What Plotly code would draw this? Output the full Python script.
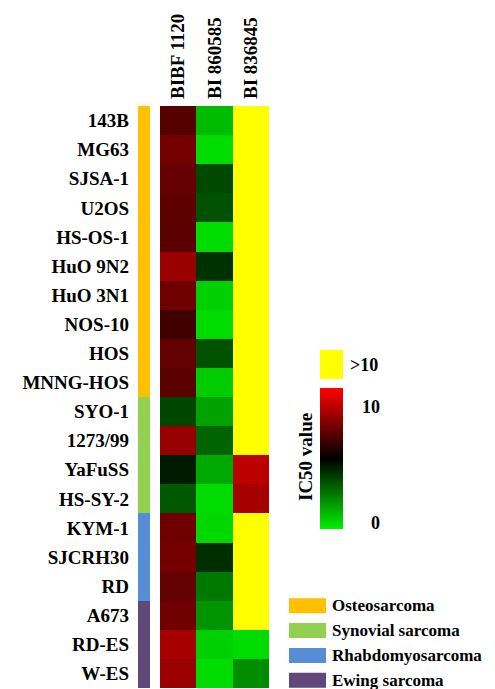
import plotly.graph_objects as go

# ---------------- data ----------------
cell_lines = ["143B", "MG63", "SJSA-1", "U2OS", "HS-OS-1", "HuO 9N2", "HuO 3N1",
              "NOS-10", "HOS", "MNNG-HOS", "SYO-1", "1273/99", "YaFuSS", "HS-SY-2",
              "KYM-1", "SJCRH30", "RD", "A673", "RD-ES", "W-ES"]
tumor_type = ["Osteosarcoma", "Osteosarcoma", "Osteosarcoma", "Osteosarcoma", "Osteosarcoma",
              "Osteosarcoma", "Osteosarcoma", "Osteosarcoma", "Osteosarcoma", "Osteosarcoma",
              "Synovial sarcoma", "Synovial sarcoma", "Synovial sarcoma", "Synovial sarcoma",
              "Rhabdomyosarcoma", "Rhabdomyosarcoma", "Rhabdomyosarcoma",
              "Ewing sarcoma", "Ewing sarcoma", "Ewing sarcoma"]
tumor_types = ["Osteosarcoma", "Synovial sarcoma", "Rhabdomyosarcoma", "Ewing sarcoma"]
tumor_colors = ["#FFC000", "#92D050", "#558ED5", "#60497A"]

drugs = ["BIBF 1120", "BI 860585", "BI 836845"]
GT10 = None  # IC50 > 10
bibf_1120 = [7.6, 8.3, 8.0, 7.8, 7.7, 9.2, 8.2, 7.1, 7.9, 7.7,
             3.8, 9.1, 4.9, 3.3, 8.2, 8.3, 7.9, 8.2, 9.5, 9.2]
bi_860585 = [0.8, 0.0, 3.7, 3.5, 0.0, 4.3, 0.3, 0.0, 3.5, 0.4,
             1.5, 3.0, 1.3, 0.0, 0.1, 4.4, 2.5, 1.8, 0.3, 0.0]
bi_836845 = [GT10, GT10, GT10, GT10, GT10, GT10, GT10, GT10, GT10, GT10,
             GT10, GT10, 10.0, 9.5, GT10, GT10, GT10, GT10, 0.0, 2.0]
cbar_ticks = [0, 10]
cbar_ticktext = ["\u00a0\u00a00", "10"]

# ---------------- layout helpers ----------------
W, H = 495, 689
L, R, T, B = 138, 269, 106, 688  # plot area in pixels
def px_x(p):
    return (p - L) / (R - L)
def px_y(p):
    return (B - p) / (B - T)

FONT = "Liberation Serif, Times New Roman, serif"

series = [bibf_1120, bi_860585, bi_836845]
z_main = [[s[i] for s in series] for i in range(len(cell_lines))]
z_gt = [[1 if s[i] is None else None for s in series] for i in range(len(cell_lines))]
z_type = [[tumor_types.index(t)] for t in tumor_type]

fig = go.Figure()

fig.add_trace(go.Heatmap(
    x=drugs, y=cell_lines, z=z_main, xaxis="x", yaxis="y",
    zmin=-0.5, zmax=11.6,
    colorscale=[[0, "rgb(0,240,0)"], [0.5, "rgb(0,0,0)"], [1, "rgb(255,0,0)"]],
    colorbar=dict(
        thickness=23, thicknessmode="pixels", len=141, lenmode="pixels",
        x=px_x(320), xanchor="left", y=px_y(458.5), yanchor="middle",
        xpad=0, ypad=0, outlinewidth=0,
        tickvals=cbar_ticks, ticktext=cbar_ticktext,
        ticks="outside", ticklen=16, tickcolor="rgba(0,0,0,0)",
        tickfont=dict(family=FONT, size=18, color="black", weight="bold"),
    ),
    hoverongaps=False,
))

fig.add_trace(go.Heatmap(
    x=drugs, y=cell_lines, z=z_gt, xaxis="x", yaxis="y",
    zmin=0, zmax=2,
    colorscale=[[0, "#FFFF00"], [1, "#FFFF00"]],
    colorbar=dict(
        thickness=23, thicknessmode="pixels", len=29, lenmode="pixels",
        x=px_x(320), xanchor="left", y=px_y(364.5), yanchor="middle",
        xpad=0, ypad=0, outlinewidth=0,
        tickvals=[1], ticktext=[">10"],
        ticks="outside", ticklen=4, tickcolor="rgba(0,0,0,0)",
        tickfont=dict(family=FONT, size=18, color="black", weight="bold"),
    ),
    hoverongaps=False,
))

fig.add_trace(go.Heatmap(
    x=["type"], y=cell_lines, z=z_type, xaxis="x2", yaxis="y",
    zmin=0, zmax=len(tumor_types) - 1,
    colorscale=[[i / (len(tumor_types) - 1), c] for i, c in enumerate(tumor_colors)],
    showscale=False,
))

# legend swatches + labels
shapes = []
annotations = []
for i, (name, col) in enumerate(zip(tumor_types, tumor_colors)):
    yc = 605.8 + i * 24.8
    shapes.append(dict(type="rect", xref="paper", yref="paper",
                       x0=px_x(289), x1=px_x(326), y0=px_y(yc - 7.5), y1=px_y(yc + 7.5),
                       fillcolor=col, line=dict(width=0)))
    annotations.append(dict(text=name, xref="paper", yref="paper",
                            x=px_x(330), y=px_y(yc), xanchor="left", yanchor="middle",
                            showarrow=False,
                            font=dict(family=FONT, size=17, color="black", weight="bold")))

annotations.append(dict(text="IC50 value", xref="paper", yref="paper",
                        x=px_x(305), y=px_y(457), xanchor="center", yanchor="middle",
                        textangle=-90, showarrow=False,
                        font=dict(family=FONT, size=19, color="black", weight="bold")))

fig.update_layout(
    width=W, height=H,
    margin=dict(l=L, r=W - R, t=T, b=H - B, pad=0),
    plot_bgcolor="white", paper_bgcolor="white",
    xaxis=dict(domain=[px_x(160), 1], side="top", anchor="y", tickangle=-90,
               showgrid=False, zeroline=False, showline=False, ticks="",
               ticklabelstandoff=6,
               tickfont=dict(family=FONT, size=19, color="black", weight="bold")),
    xaxis2=dict(domain=[0, px_x(150)], anchor="y", showticklabels=False,
                showgrid=False, zeroline=False, showline=False, ticks=""),
    yaxis=dict(autorange="reversed", anchor="x2", showgrid=False, zeroline=False,
               showline=False, ticks="", ticklabelstandoff=8,
               tickfont=dict(family=FONT, size=19, color="black", weight="bold")),
    shapes=shapes,
    annotations=annotations,
    showlegend=False,
)

fig.write_html("out.html")
